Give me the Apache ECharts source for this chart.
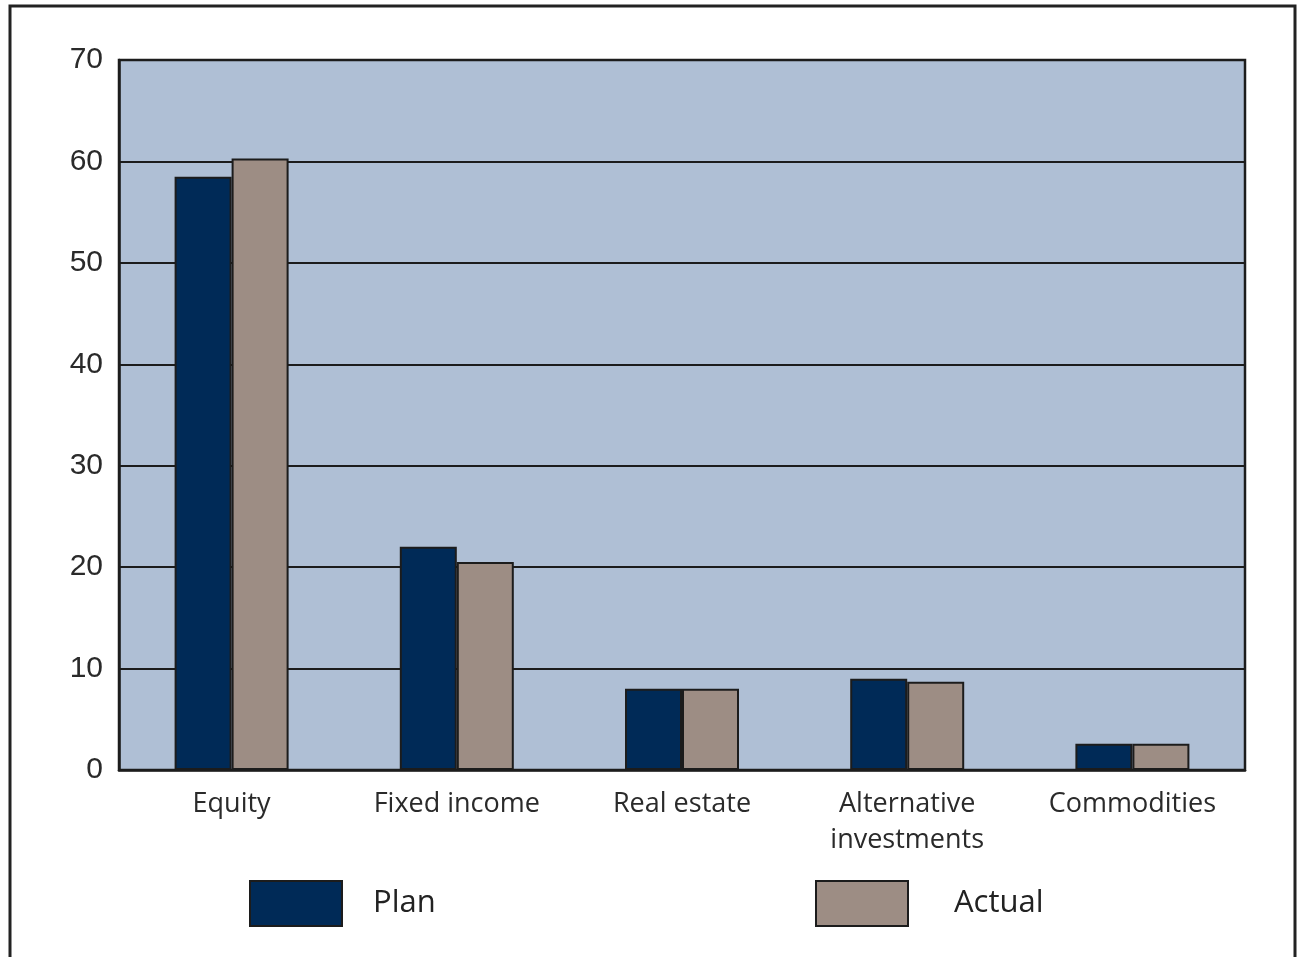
<!DOCTYPE html>
<html>
<head>
<meta charset="utf-8">
<script src="https://cdn.jsdelivr.net/npm/echarts@6/dist/echarts.min.js"></script>
<style>
  html, body { margin: 0; padding: 0; background: #ffffff; }
  #chart { width: 1299px; height: 957px; }
</style>
</head>
<body>
<div id="chart"></div>
<script>
// Asset allocation: plan vs. actual (percent)
const categories = ['Equity', 'Fixed income', 'Real estate', 'Alternative\ninvestments', 'Commodities'];
const planValues = [58.5, 22.0, 8.0, 9.0, 2.6];
const actualValues = [60.3, 20.5, 8.0, 8.7, 2.6];
const yTicks = [0, 10, 20, 30, 40, 50, 60, 70];

const PLAN_COLOR = '#002a57';
const ACTUAL_COLOR = '#9d8d84';
const EDGE = '#1c1c1c';

const chart = echarts.init(document.getElementById('chart'));

function legendAt(left, name, textGap) {
  return {
    top: 875,
    left: left,
    padding: 5,
    data: [name],
    itemWidth: 92,
    itemHeight: 45,
    icon: 'rect',
    selectedMode: false,
    textStyle: {
      fontFamily: 'Open Sans',
      fontSize: 31,
      color: '#222',
      padding: [3, 0, 0, textGap]
    }
  };
}

chart.setOption({
  animation: false,
  backgroundColor: '#ffffff',
  graphic: [{
    type: 'rect',
    shape: { x: 10, y: 6, width: 1285, height: 980 },
    style: { fill: 'none', stroke: '#222', lineWidth: 3 },
    silent: true
  }],
  legend: [
    legendAt(244, 'Plan', 26),
    legendAt(810, 'Actual', 41)
  ],
  grid: {
    left: 119, right: 54, top: 60, bottom: 187,
    show: true,
    backgroundColor: '#afbfd5',
    borderColor: EDGE,
    borderWidth: 2.5
  },
  xAxis: {
    type: 'category',
    data: categories,
    axisLine: { show: true, lineStyle: { color: EDGE, width: 2.5 } },
    axisTick: { show: false },
    axisLabel: {
      fontFamily: 'Open Sans',
      fontSize: 27,
      color: '#2a2a2a',
      lineHeight: 36,
      margin: 16,
      interval: 0
    }
  },
  yAxis: {
    type: 'value',
    min: yTicks[0],
    max: yTicks[yTicks.length - 1],
    interval: 10,
    axisLine: { show: true, lineStyle: { color: EDGE, width: 2.5 } },
    axisTick: { show: false },
    splitLine: { lineStyle: { color: EDGE, width: 2 } },
    axisLabel: {
      fontFamily: 'Liberation Sans',
      fontSize: 30,
      color: '#2a2a2a',
      margin: 16
    }
  },
  series: [
    {
      name: 'Plan',
      type: 'bar',
      data: planValues,
      barWidth: 57,
      barGap: '0%',
      itemStyle: { color: PLAN_COLOR, borderColor: EDGE, borderWidth: 2 }
    },
    {
      name: 'Actual',
      type: 'bar',
      data: actualValues,
      barWidth: 57,
      barGap: '0%',
      itemStyle: { color: ACTUAL_COLOR, borderColor: EDGE, borderWidth: 2 }
    }
  ]
});
</script>
</body>
</html>
